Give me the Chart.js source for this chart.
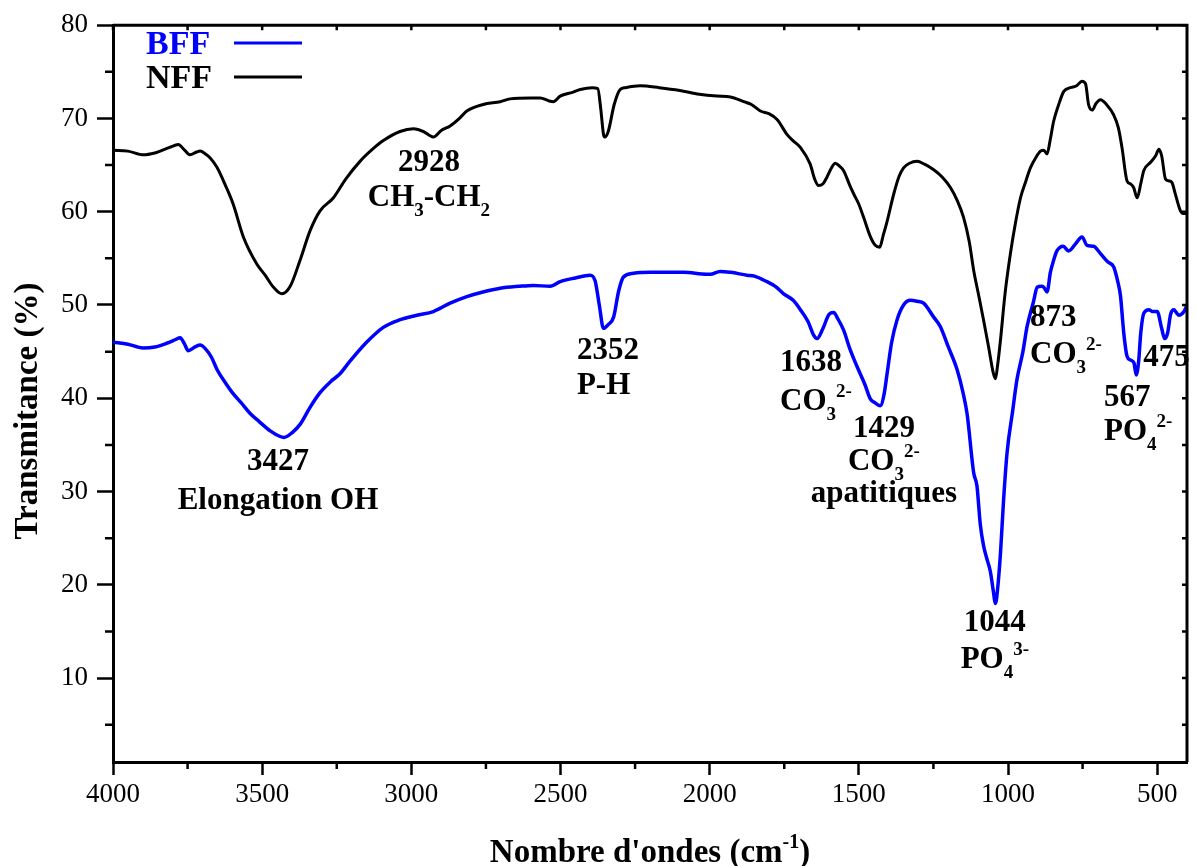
<!DOCTYPE html>
<html><head><meta charset="utf-8">
<script src="https://cdn.jsdelivr.net/npm/chart.js@4.4.1/dist/chart.umd.min.js"></script>
<style>html,body{margin:0;padding:0;background:#fff}#wrap{width:1197px;height:866px}</style>
</head><body><div id="wrap"><canvas id="c" width="1197" height="866"></canvas></div>
<script>
// ---------- DATA ----------
const seriesLabels = ['BFF', 'NFF'];

const nffWavenumber = [4000,3950,3898,3860,3842,3810,3781,3760,3742,3720,3708,3690,3675,3652,3620,3597,3563,3518,3490,3462,3434,3406,3373,3339,3306,3261,3220,3172,3130,3095,3038,2993,2959,2940,2926,2900,2870,2836,2814,2759,2702,2669,2600,2568,2540,2524,2501,2460,2434,2394,2375,2365,2356,2352,2340,2320,2300,2283,2233,2169,2100,2035,1976,1930,1886,1860,1830,1800,1774,1741,1720,1696,1663,1648,1635,1620,1607,1590,1579,1565,1551,1530,1517,1500,1484,1461,1445,1430,1418,1405,1383,1365,1350,1330,1305,1280,1249,1220,1193,1170,1149,1130,1115,1098,1082,1065,1050,1042,1035,1025,1010,992,975,958,940,925,905,891,880,869,858,847,830,813,791,770,752,740,730,718,705,690,670,646,630,618,601,590,579,567,555,545,522,505,494,485,472,460,450,440,422,410,400];
const nffTransmittance = [66.6,66.5,66.1,66.3,66.5,66.9,67.2,66.6,66.1,66.4,66.5,66.2,65.8,64.8,62.6,60.8,57.3,54.4,53.2,51.9,51.2,52.0,54.8,58.0,60.1,61.5,63.5,65.4,66.7,67.6,68.6,68.9,68.6,68.2,68.0,68.7,69.2,70.1,70.8,71.5,71.8,72.1,72.2,72.2,71.9,71.8,72.4,72.8,73.1,73.3,73.2,71.0,68.3,68.0,68.6,71.5,73.1,73.3,73.5,73.3,73.0,72.6,72.4,72.3,71.8,71.5,70.8,70.5,69.9,68.3,67.6,66.9,65.1,63.5,62.8,63.0,63.7,64.8,65.2,64.9,64.4,62.8,61.9,60.8,59.4,57.3,56.4,56.2,57.5,59.0,61.9,63.8,64.7,65.2,65.4,65.1,64.5,63.7,62.6,61.2,59.4,56.8,53.7,51.0,48.4,45.5,42.8,42.1,43.5,46.3,51.2,55.5,58.8,61.5,63.3,64.7,65.9,66.5,66.6,66.2,67.8,69.7,71.5,72.9,73.3,73.5,74.0,73.7,71.5,70.9,71.6,72.0,71.5,70.4,69.0,66.9,63.3,63.0,62.6,61.5,63.0,64.4,65.3,66.0,66.7,66.0,63.5,63.3,63.1,62.0,60.1,59.8,59.8];

const bffWavenumber = [4000,3950,3900,3860,3820,3790,3775,3760,3748,3725,3708,3690,3670,3650,3620,3600,3570,3541,3510,3473,3440,3427,3400,3373,3340,3306,3270,3240,3205,3150,3094,3040,2982,2926,2870,2814,2760,2702,2640,2591,2535,2501,2450,2401,2384,2370,2356,2340,2322,2305,2289,2255,2199,2087,2010,1998,1965,1930,1875,1850,1808,1780,1752,1720,1696,1670,1652,1640,1620,1600,1584,1570,1551,1530,1506,1480,1461,1445,1428,1415,1405,1390,1372,1350,1327,1305,1283,1249,1227,1200,1171,1150,1137,1115,1104,1093,1082,1070,1059,1050,1042,1035,1025,1015,1003,985,970,950,936,915,902,888,880,869,858,847,836,815,797,775,752,735,713,690,665,646,632,623,612,601,590,578,570,562,555,545,528,515,500,485,475,465,455,444,436,428,410,400];
const bffTransmittance = [46.0,45.8,45.4,45.5,45.9,46.3,46.5,45.8,45.1,45.5,45.7,45.3,44.4,43.0,41.5,40.6,39.5,38.4,37.5,36.5,35.9,35.8,36.3,37.2,39.0,40.6,41.8,42.6,44.0,46.0,47.6,48.4,48.9,49.3,50.2,50.9,51.4,51.8,52.0,52.1,52.0,52.5,52.9,53.2,52.6,50.0,47.5,47.9,48.7,51.5,53.0,53.4,53.5,53.5,53.3,53.3,53.6,53.5,53.2,53.1,52.5,52.0,51.2,50.5,49.5,48.2,46.8,46.4,47.5,49.0,49.2,48.5,47.3,45.3,43.4,41.5,39.9,39.5,39.2,40.5,42.7,46.0,48.4,50.0,50.5,50.4,50.2,48.7,47.7,45.5,43.1,40.5,38.3,32.0,30.6,26.5,24.2,22.7,21.4,19.5,18.0,19.5,23.5,29.0,34.2,38.5,42.0,45.0,47.7,50.3,51.9,52.0,51.9,51.4,53.5,54.8,55.8,56.3,55.8,56.5,57.3,56.4,56.3,55.5,54.6,54.1,52.5,51.0,47.0,44.5,44.1,43.8,42.5,44.0,47.0,49.1,49.5,49.3,49.3,47.5,46.4,47.0,49.0,49.5,49.2,48.9,49.3,50.0];

const xTickValues = [4000,3500,3000,2500,2000,1500,1000,500];
const xMinorTickValues = [3750,3250,2750,2250,1750,1250,750];
const yTickValues = [10,20,30,40,50,60,70,80];
const yMinorTickValues = [5,15,25,35,45,55,65,75];
const xAxisTitle = ['Nombre d\'ondes (cm', '-1', ')'];
const yAxisTitle = 'Transmitance (%)';

// annotation texts: lines of [text, kind] segments (n = normal, sub, sup)
const annotationTexts = [
  [[['2928','n']], [['CH','n'],['3','sub'],['-CH','n'],['2','sub']]],
  [[['3427','n']], [['Elongation OH','n']]],
  [[['2352','n']], [['P-H','n']]],
  [[['1638','n']], [['CO','n'],['3','sub'],['2-','sup']]],
  [[['1429','n']], [['CO','n'],['3','sub'],['2-','sup']], [['apatitiques','n']]],
  [[['1044','n']], [['PO','n'],['4','sub'],['3-','sup']]],
  [[['873','n']], [['CO','n'],['3','sub'],['2-','sup']]],
  [[['567','n']], [['PO','n'],['4','sub'],['2-','sup']]],
  [[['475','n']]]
];
// anchors in data coordinates (wavenumber, transmittance of first baseline), alignment, line gaps (px)
const annotationPlacement = [
  {x: 2941, y: 64.35, align: 'center', gaps: [35]},
  {x: 3447, y: 32.3, align: 'center', gaps: [39]},
  {x: 2445, y: 44.2, align: 'left', gaps: [35]},
  {x: 1764, y: 42.95, align: 'left', gaps: [39]},
  {x: 1416, y: 35.8, align: 'center', gaps: [33, 32]},
  {x: 1044, y: 15.05, align: 'center', gaps: [37]},
  {x: 926, y: 47.74, align: 'left', gaps: [37]},
  {x: 678, y: 39.2, align: 'left', gaps: [34]},
  {x: 547, y: 43.5, align: 'left', gaps: []}
];

// ---------- STYLE ----------
const SERIF = '"Liberation Serif", "Times New Roman", serif';
const mainFont = 'bold 31px ' + SERIF;
const smallFont = 'bold 19px ' + SERIF;

function toPoints(xs, ys) { return xs.map((x, i) => ({x: x, y: ys[i]})); }

function drawRich(ctx, segs, x, y, align, big, small, subOff, supOff) {
  const parts = segs.map(([t, k]) => {
    ctx.font = k === 'n' ? big : small;
    return {t, k, w: ctx.measureText(t).width};
  });
  const total = parts.reduce((a, p) => a + p.w, 0);
  let cx = align === 'center' ? x - total / 2 : x;
  ctx.textAlign = 'left';
  ctx.textBaseline = 'alphabetic';
  for (const p of parts) {
    ctx.font = p.k === 'n' ? big : small;
    const dy = p.k === 'sub' ? subOff : (p.k === 'sup' ? supOff : 0);
    ctx.fillText(p.t, cx, y + dy);
    cx += p.w;
  }
}

const decorPlugin = {
  id: 'decor',
  afterDraw(chart) {
    const ctx = chart.ctx;
    const a = chart.chartArea;
    const xs = chart.scales.x, ys = chart.scales.y;
    ctx.save();
    ctx.strokeStyle = '#000';
    ctx.fillStyle = '#000';
    // top & right frame
    ctx.lineWidth = 3;
    ctx.beginPath();
    ctx.moveTo(a.left, a.top); ctx.lineTo(a.right, a.top); ctx.lineTo(a.right, a.bottom);
    ctx.stroke();
    // minor ticks outward
    ctx.lineWidth = 2.5;
    ctx.beginPath();
    yMinorTickValues.forEach(v => { const p = ys.getPixelForValue(v); ctx.moveTo(a.left - 8, p); ctx.lineTo(a.left, p); });
    xMinorTickValues.forEach(v => { const p = xs.getPixelForValue(v); ctx.moveTo(p, a.bottom); ctx.lineTo(p, a.bottom + 7); });
    // inward ticks on top & right
    xTickValues.concat(xMinorTickValues).forEach(v => { const p = xs.getPixelForValue(v); ctx.moveTo(p, a.top); ctx.lineTo(p, a.top + 5); });
    yTickValues.concat(yMinorTickValues).forEach(v => { const p = ys.getPixelForValue(v); ctx.moveTo(a.right, p); ctx.lineTo(a.right - 5, p); });
    ctx.stroke();

    // legend
    ctx.font = 'bold 34px ' + SERIF;
    ctx.textAlign = 'left'; ctx.textBaseline = 'alphabetic';
    chart.data.datasets.forEach((ds, i) => {
      const by = 54 + i * 34;
      ctx.fillStyle = ds.borderColor;
      ctx.fillText(ds.label, 146, by);
      ctx.strokeStyle = ds.borderColor;
      ctx.lineWidth = 3;
      ctx.beginPath(); ctx.moveTo(234, by - 11); ctx.lineTo(302, by - 11); ctx.stroke();
    });

    // annotations
    ctx.fillStyle = '#000';
    annotationTexts.forEach((lines, i) => {
      const pl = annotationPlacement[i];
      const px = xs.getPixelForValue(pl.x);
      let py = ys.getPixelForValue(pl.y);
      lines.forEach((segs, j) => {
        if (j > 0) py += pl.gaps[j - 1];
        drawRich(ctx, segs, px, py, pl.align, mainFont, smallFont, 10, -13);
      });
    });

    // x axis title
    const cxT = (a.left + a.right) / 2;
    drawRich(ctx, [[xAxisTitle[0], 'n'], [xAxisTitle[1], 'sup'], [xAxisTitle[2], 'n']], cxT, 862, 'center',
      'bold 33px ' + SERIF, 'bold 20px ' + SERIF, 0, -14);
    // y axis title
    ctx.save();
    ctx.translate(37, 411);
    ctx.rotate(-Math.PI / 2);
    ctx.font = 'bold 33px ' + SERIF;
    ctx.textAlign = 'center'; ctx.textBaseline = 'alphabetic';
    ctx.fillText(yAxisTitle, 0, 0);
    ctx.restore();
    ctx.restore();
  }
};

new Chart(document.getElementById('c'), {
  type: 'line',
  data: {
    datasets: [
      {label: seriesLabels[0], data: toPoints(bffWavenumber, bffTransmittance), borderColor: '#0000ff', borderWidth: 3.5, pointRadius: 0, cubicInterpolationMode: 'monotone', fill: false},
      {label: seriesLabels[1], data: toPoints(nffWavenumber, nffTransmittance), borderColor: '#000000', borderWidth: 3, pointRadius: 0, cubicInterpolationMode: 'monotone', fill: false}
    ]
  },
  options: {
    responsive: false,
    animation: false,
    devicePixelRatio: 1,
    layout: {padding: {left: 0, top: 20, right: 10, bottom: 0}},
    plugins: {legend: {display: false}, tooltip: {enabled: false}},
    scales: {
      x: {
        type: 'linear', reverse: true, min: 400, max: 4000,
        afterBuildTicks: s => { s.ticks = xTickValues.map(v => ({value: v})); },
        afterFit: s => { s.height = 104; },
        grid: {drawOnChartArea: false, drawTicks: true, tickLength: 13, tickWidth: 2.5, tickColor: '#000'},
        border: {display: true, width: 3, color: '#000'},
        ticks: {autoSkip: false, maxRotation: 0, padding: 4, color: '#000', font: {family: SERIF, size: 27},
          callback: v => String(v)}
      },
      y: {
        type: 'linear', min: 1, max: 80,
        afterBuildTicks: s => { s.ticks = yTickValues.map(v => ({value: v})); },
        afterFit: s => { s.width = 113; },
        grid: {drawOnChartArea: false, drawTicks: true, tickLength: 16, tickWidth: 2.5, tickColor: '#000'},
        border: {display: true, width: 3, color: '#000'},
        ticks: {padding: 9, color: '#000', font: {family: SERIF, size: 27}, callback: v => String(v)}
      }
    }
  },
  plugins: [decorPlugin]
});
</script></body></html>
